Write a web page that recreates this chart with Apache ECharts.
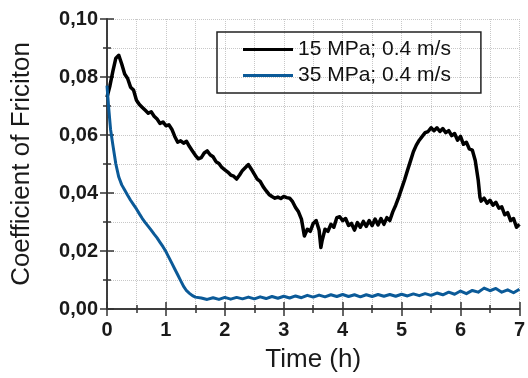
<!DOCTYPE html>
<html><head><meta charset="utf-8">
<script src="https://cdn.jsdelivr.net/npm/echarts@6/dist/echarts.min.js"></script>
<style>html,body{margin:0;padding:0;background:#fff}#c{width:528px;height:378px}</style>
</head><body><div id="c"></div>
<script>
const seriesNames = ['15 MPa; 0.4 m/s', '35 MPa; 0.4 m/s'];
const xTicks = [0,1,2,3,4,5,6,7];
const blackT = [0,0.05,0.1,0.15,0.2,0.25,0.3,0.35,0.4,0.45,0.5,0.55,0.6,0.65,0.7,0.75,0.8,0.85,0.9,0.95,
1.0,1.05,1.1,1.15,1.2,1.25,1.3,1.35,1.4,1.45,1.5,1.55,1.6,1.65,1.7,1.75,1.8,1.85,1.9,1.95,
2.0,2.05,2.1,2.15,2.2,2.25,2.3,2.35,2.4,2.45,2.5,2.55,2.6,2.65,2.7,2.75,2.8,2.85,2.9,2.95,
3.0,3.05,3.1,3.15,3.2,3.25,3.3,3.35,3.4,3.45,3.5,3.55,3.6,3.63,3.65,3.7,3.75,3.8,3.85,3.9,3.95,
4.0,4.05,4.1,4.15,4.2,4.25,4.3,4.35,4.4,4.45,4.5,4.55,4.6,4.65,4.7,4.75,4.8,4.85,4.9,4.95,
5.0,5.05,5.1,5.15,5.2,5.25,5.3,5.35,5.4,5.45,5.5,5.55,5.6,5.65,5.7,5.75,5.8,5.85,5.9,5.95,
6.0,6.05,6.1,6.15,6.2,6.25,6.3,6.33,6.35,6.4,6.45,6.5,6.55,6.6,6.65,6.7,6.75,6.8,6.85,6.9,6.95,7.0];
const blackY = [0.073,0.077,0.082,0.0865,0.0875,0.0845,0.081,0.0795,0.0765,0.0755,0.072,0.0705,0.0695,0.0685,0.0675,0.068,0.0665,0.0655,0.064,0.0645,
0.0632,0.0635,0.062,0.0595,0.0575,0.058,0.0572,0.0578,0.056,0.0545,0.053,0.0518,0.0522,0.0538,0.0545,0.0532,0.0525,0.0508,0.0502,0.0488,
0.048,0.0472,0.0462,0.0458,0.0448,0.0462,0.0478,0.0488,0.0498,0.0482,0.0465,0.0448,0.044,0.0422,0.0408,0.0395,0.0388,0.0382,0.0386,0.0381,
0.0388,0.0384,0.0382,0.037,0.035,0.0335,0.031,0.0252,0.0275,0.0268,0.0295,0.0305,0.0272,0.0212,0.0235,0.0275,0.0268,0.0292,0.0282,0.0315,0.0318,
0.0305,0.0312,0.0288,0.0295,0.0272,0.0298,0.0282,0.0302,0.0285,0.0305,0.0288,0.031,0.029,0.0312,0.0292,0.0315,0.0305,0.0335,0.0358,0.0385,
0.0415,0.0445,0.0478,0.051,0.0542,0.0565,0.0582,0.0595,0.0608,0.0612,0.0625,0.0615,0.0625,0.0612,0.0622,0.0608,0.0615,0.0598,0.0605,0.0582,
0.0595,0.0568,0.0575,0.0552,0.0548,0.0512,0.0445,0.0385,0.0372,0.0382,0.0365,0.0375,0.0358,0.0368,0.0348,0.0352,0.0325,0.0332,0.0305,0.0312,0.0282,0.0292];
const blueT = [0,0.03,0.06,0.1,0.15,0.2,0.25,0.3,0.35,0.4,0.45,0.5,0.55,0.6,0.65,0.7,0.75,0.8,0.85,0.9,0.95,
1.0,1.05,1.1,1.15,1.2,1.25,1.3,1.35,1.4,1.45,1.5,1.6,1.7,1.8,1.9,2.0,2.1,2.2,2.3,2.4,2.5,2.6,2.7,2.8,2.9,
3.0,3.1,3.2,3.3,3.4,3.5,3.6,3.7,3.8,3.9,4.0,4.1,4.2,4.3,4.4,4.5,4.6,4.7,4.8,4.9,
5.0,5.1,5.2,5.3,5.4,5.5,5.6,5.7,5.8,5.9,6.0,6.1,6.2,6.3,6.4,6.5,6.6,6.7,6.8,6.9,7.0];
const blueY = [0.077,0.069,0.062,0.0565,0.050,0.0455,0.0428,0.041,0.0392,0.0375,0.036,0.0345,0.0328,0.0312,0.0298,0.0285,0.0272,0.0258,0.0245,0.023,0.0215,
0.0198,0.0178,0.0158,0.0138,0.0118,0.0098,0.0078,0.0063,0.0054,0.0046,0.0041,0.0038,0.0033,0.0039,0.0033,0.0040,0.0034,0.0040,0.0035,0.0041,0.0035,0.0042,0.0036,0.0043,0.0037,
0.0044,0.0038,0.0045,0.0039,0.0047,0.0041,0.0048,0.0042,0.0049,0.0043,0.0050,0.0043,0.0049,0.0042,0.0049,0.0043,0.0050,0.0044,0.0050,0.0044,
0.0051,0.0045,0.0052,0.0046,0.0053,0.0047,0.0055,0.0049,0.0058,0.0051,0.0062,0.0053,0.0064,0.0058,0.0072,0.0063,0.0071,0.0058,0.0066,0.0056,0.0068];

const chart = echarts.init(document.getElementById('c'));
const FONT = 'Liberation Sans';
const axisLine = {show:true, lineStyle:{color:'#333', width:1.5}};
const grid = {show:true, lineStyle:{color:'#c8c8c8', type:'dotted', width:1}};
function xAx(pos, labels){
  return {type:'value', min:0, max:7, interval:1, position:pos,
    axisLine: axisLine, axisTick:{show:true, inside:true, length:7, lineStyle:{color:'#333', width:1.5}},
    minorTick:{show:true, splitNumber:2, length:4, lineStyle:{color:'#333', width:1.5}},
    splitLine: labels ? grid : {show:false}, minorSplitLine: labels ? grid : {show:false},
    axisLabel:{show:labels, fontFamily:FONT, fontWeight:'bold', fontSize:20, color:'#1a1a1a', margin:11},
    name: labels ? 'Time (h)' : '', nameLocation:'middle', nameGap:38,
    nameTextStyle:{fontFamily:FONT, fontSize:26, color:'#1a1a1a'}};
}
function yAx(pos, labels){
  return {type:'value', min:0, max:0.1, interval:0.02, position:pos,
    axisLine: axisLine, axisTick:{show:true, inside:true, length:7, lineStyle:{color:'#333', width:1.5}},
    minorTick:{show:true, splitNumber:2, length:4, lineStyle:{color:'#333', width:1.5}},
    splitLine: labels ? grid : {show:false}, minorSplitLine: labels ? grid : {show:false},
    axisLabel:{show:labels, fontFamily:FONT, fontWeight:'bold', fontSize:20, color:'#1a1a1a', margin:9,
      formatter: v => v.toFixed(2).replace('.', ',')},
    name: labels ? 'Coefficient of Friciton' : '', nameLocation:'middle', nameGap:72, nameRotate:90,
    nameTextStyle:{fontFamily:FONT, fontSize:26, color:'#1a1a1a'}};
}
chart.setOption({
  animation:false,
  grid:{left:107, right:7, top:19, bottom:66},
  xAxis:[xAx('bottom', true), xAx('top', false)],
  yAxis:[yAx('left', true), yAx('right', false)],
  legend:{orient:'vertical', left:217, top:32, padding:[7,30,7,26], itemGap:5,
    itemWidth:50, itemHeight:3, borderColor:'#222', borderWidth:1.5,
    textStyle:{fontFamily:FONT, fontSize:21, color:'#111'},
    data:[{name:seriesNames[0], icon:'rect'},{name:seriesNames[1], icon:'rect'}]},
  series:[
    {name:seriesNames[0], type:'line', showSymbol:false, xAxisIndex:0, yAxisIndex:0,
      itemStyle:{color:'#000'}, lineStyle:{color:'#000', width:3.5, join:'round'},
      data: blackT.map((t,i)=>[t, blackY[i]])},
    {name:seriesNames[1], type:'line', showSymbol:false, xAxisIndex:0, yAxisIndex:0,
      itemStyle:{color:'#0b5a98'}, lineStyle:{color:'#0b5a98', width:3, join:'round'},
      data: blueT.map((t,i)=>[t, blueY[i]])}
  ]
});
</script></body></html>
